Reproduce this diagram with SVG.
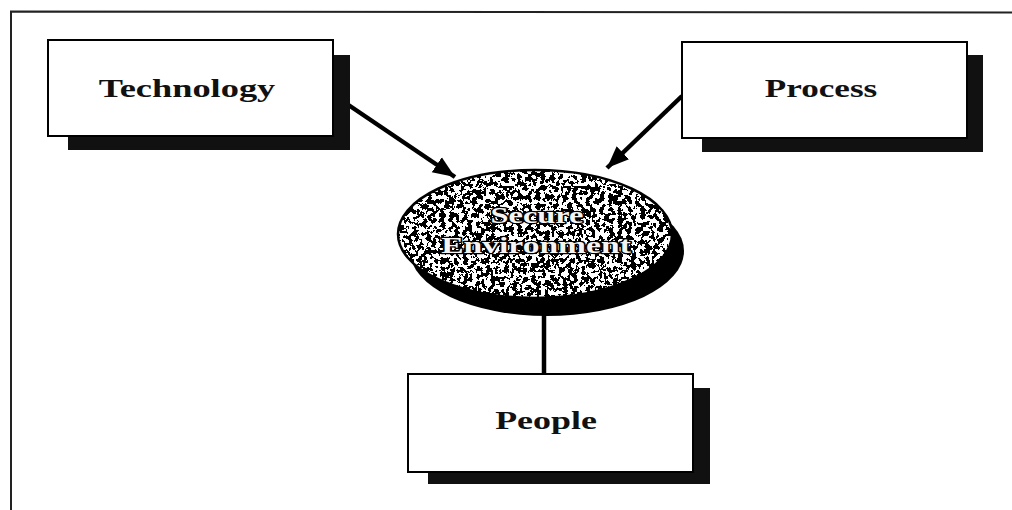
<svg xmlns="http://www.w3.org/2000/svg" width="1012" height="510" viewBox="0 0 1012 510">
  <style>
    .box { fill: #ffffff; stroke: #000000; stroke-width: 2; }
    .shadow { fill: #111111; }
    .label { font-family: "Liberation Serif", "Times New Roman", serif; font-weight: bold; font-size: 26px; fill: #111111; }
    .oval-label { font-family: "Liberation Serif", "Times New Roman", serif; font-weight: bold; font-size: 24px; fill: #f4f4f4; stroke: #000000; stroke-width: 2.5; paint-order: stroke; stroke-linejoin: round; }
    .link { stroke: #000000; stroke-width: 4.5; fill: none; }
    .frame { stroke: #222222; stroke-width: 2; fill: none; }
  </style>
  <defs>
    <marker id="arrow" markerUnits="userSpaceOnUse" markerWidth="24" markerHeight="20" refX="22" refY="10" orient="auto">
      <path d="M0,1 L22,10 L0,19 Z" fill="#000000"/>
    </marker>
    <!-- speckled grey fill for the central oval -->
    <filter id="grain" x="0" y="0" width="100%" height="100%" color-interpolation-filters="sRGB">
      <feTurbulence type="fractalNoise" baseFrequency="0.22" numOctaves="3" seed="7" result="noise"/>
      <feColorMatrix in="noise" type="saturate" values="0" result="grey"/>
      <feComponentTransfer in="grey" result="speck">
        <feFuncR type="discrete" tableValues="0 0 0 1 1 1"/>
        <feFuncG type="discrete" tableValues="0 0 0 1 1 1"/>
        <feFuncB type="discrete" tableValues="0 0 0 1 1 1"/>
        <feFuncA type="linear" slope="0" intercept="1"/>
      </feComponentTransfer>
      <feComposite in="speck" in2="SourceGraphic" operator="in"/>
    </filter>
    <!-- darker speckle for the oval's drop shadow -->
    <filter id="grain-dark" x="0" y="0" width="100%" height="100%" color-interpolation-filters="sRGB">
      <feTurbulence type="fractalNoise" baseFrequency="0.3" numOctaves="2" seed="11" result="noise"/>
      <feColorMatrix in="noise" type="saturate" values="0" result="grey"/>
      <feComponentTransfer in="grey" result="speck">
        <feFuncR type="discrete" tableValues="0 0 0 0 0 0 1"/>
        <feFuncG type="discrete" tableValues="0 0 0 0 0 0 1"/>
        <feFuncB type="discrete" tableValues="0 0 0 0 0 0 1"/>
        <feFuncA type="linear" slope="0" intercept="1"/>
      </feComponentTransfer>
      <feComposite in="speck" in2="SourceGraphic" operator="in"/>
    </filter>
  </defs>

  <rect width="1012" height="510" fill="#ffffff"/>

  <!-- page frame: top and left rules -->
  <path class="frame" d="M11,510 L11,11.5 L1012,12.5"/>

  <g id="connectors">
    <line class="link" x1="544" y1="374" x2="544" y2="310"/>
    <line class="link" x1="347" y1="104" x2="455" y2="177" marker-end="url(#arrow)"/>
    <line class="link" x1="682" y1="96" x2="607" y2="168" marker-end="url(#arrow)"/>
  </g>

  <g id="technology">
    <rect class="shadow" x="68" y="55" width="282" height="95"/>
    <rect class="box" x="48" y="40" width="285" height="96"/>
    <text class="label" transform="translate(187,97) scale(1.4,1)" text-anchor="middle">Technology</text>
  </g>

  <g id="process">
    <rect class="shadow" x="702" y="55" width="281" height="97"/>
    <rect class="box" x="682" y="42" width="285" height="96"/>
    <text class="label" transform="translate(821,97) scale(1.35,1)" text-anchor="middle">Process</text>
  </g>

  <g id="people">
    <rect class="shadow" x="428" y="388" width="282" height="96"/>
    <rect class="box" x="408" y="374" width="285" height="98"/>
    <text class="label" transform="translate(546,429) scale(1.38,1)" text-anchor="middle">People</text>
  </g>

  <g id="secure-environment">
    <ellipse cx="547" cy="251" rx="137" ry="65" fill="#000000" filter="url(#grain-dark)"/>
    <ellipse cx="535" cy="234" rx="137" ry="64" fill="#000000" filter="url(#grain)"/>
    <ellipse cx="535" cy="234" rx="137" ry="64" fill="none" stroke="#000000" stroke-width="2.5"/>
    <text class="oval-label" transform="translate(537,223) scale(1.35,1)" text-anchor="middle">Secure</text>
    <text class="oval-label" transform="translate(536,253) scale(1.4,1)" text-anchor="middle">Environment</text>
  </g>
</svg>
